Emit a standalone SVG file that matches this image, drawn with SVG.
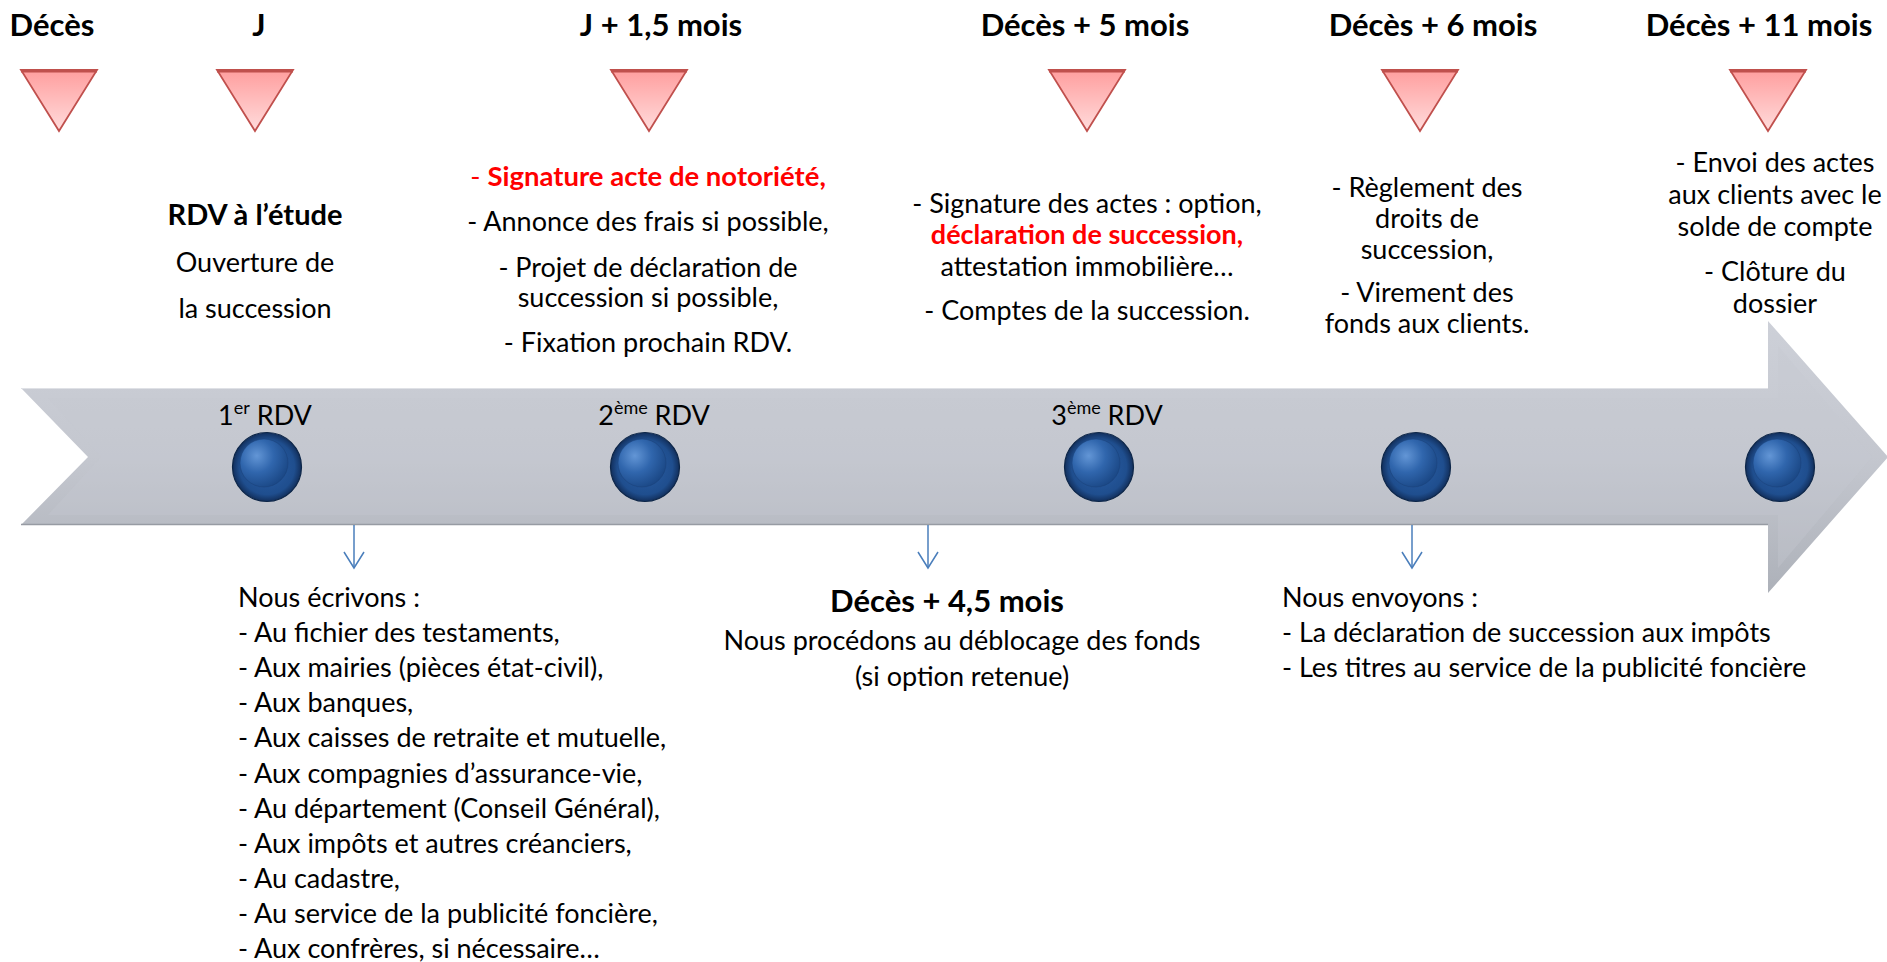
<svg xmlns="http://www.w3.org/2000/svg" width="1887" height="962" viewBox="0 0 1887 962">
<defs>
<linearGradient id="triG" x1="0" y1="0" x2="0" y2="1">
<stop offset="0" stop-color="#ff9e9e"/>
<stop offset="1" stop-color="#ffdcdc"/>
</linearGradient>
<linearGradient id="arrG" x1="0" y1="0" x2="0" y2="1">
<stop offset="0" stop-color="#cdd0d8"/>
<stop offset="0.5" stop-color="#c4c7cf"/>
<stop offset="1" stop-color="#adb1b9"/>
</linearGradient>
<radialGradient id="bOut" cx="0.5" cy="0.5" r="0.5">
<stop offset="0" stop-color="#2b5fa6"/>
<stop offset="0.8" stop-color="#1f4e8e"/>
<stop offset="1" stop-color="#122f5c"/>
</radialGradient>
<radialGradient id="bIn" cx="0.35" cy="0.35" r="0.7">
<stop offset="0" stop-color="#6396d6"/>
<stop offset="0.5" stop-color="#3066ad"/>
<stop offset="1" stop-color="#1b4886"/>
</radialGradient>
<marker id="vh" viewBox="0 0 20 22" refX="17" refY="11" markerWidth="20" markerHeight="22" markerUnits="userSpaceOnUse" orient="auto">
<path d="M1,1 L17,11 L1,21" fill="none" stroke="#4a7ebb" stroke-width="1.5"/>
</marker>
<style>
.t{font-family:Lato,"Open Sans","Liberation Sans",sans-serif;font-size:27px;fill:#000}
.m{text-anchor:middle}
.b{font-weight:bold}
.h{font-family:Lato,"Open Sans","Liberation Sans",sans-serif;font-size:31px;font-weight:bold;fill:#000;text-anchor:middle}
.red{fill:#ff0000}
.tri{fill:url(#triG);stroke:#c0504d;stroke-width:1.8;stroke-linejoin:miter}
.triTop{stroke:#c0504d;stroke-width:3}
.bo{fill:url(#bOut);stroke:#0d2648;stroke-width:1.2}
.bi{fill:url(#bIn);stroke:#1a3f75;stroke-width:0.8;stroke-opacity:0.6}
.con{stroke:#4a7ebb;stroke-width:1.5;fill:none}
.sup{font-size:18px}
</style>
</defs>

<g id="timeline-arrow">
<polygon points="21,388 1768,388 1768,321 1888,457 1768,593 1768,525 21,525 88,457" fill="url(#arrG)"/>
<polygon points="48,398 1778,398 1778,346 1872,457 1778,568 1778,515 48,515 101,457" fill="#c6c9d1" opacity="0.35"/>
<line x1="21" y1="388.5" x2="1768" y2="388.5" stroke="#dfe1e6" stroke-width="1"/>
<line x1="21" y1="524.5" x2="1768" y2="524.5" stroke="#979ba3" stroke-width="1.5"/>
</g>

<g id="headings">
<text class="h" x="52" y="36">Décès</text>
<text class="h" x="259" y="36">J</text>
<text class="h" x="661" y="36">J + 1,5 mois</text>
<text class="h" x="1085" y="36">Décès + 5 mois</text>
<text class="h" x="1433" y="36">Décès + 6 mois</text>
<text class="h" x="1759" y="36">Décès + 11 mois</text>
</g>

<g id="triangles">
<g id="tri-deces"><polygon class="tri" points="21,70 97,70 59,131"/><line class="triTop" x1="21" y1="71" x2="97" y2="71"/></g>
<g id="tri-j"><polygon class="tri" points="217,70 293,70 255,131"/><line class="triTop" x1="217" y1="71" x2="293" y2="71"/></g>
<g id="tri-j15"><polygon class="tri" points="611,70 687,70 649,131"/><line class="triTop" x1="611" y1="71" x2="687" y2="71"/></g>
<g id="tri-d5"><polygon class="tri" points="1049,70 1125,70 1087,131"/><line class="triTop" x1="1049" y1="71" x2="1125" y2="71"/></g>
<g id="tri-d6"><polygon class="tri" points="1382,70 1458,70 1420,131"/><line class="triTop" x1="1382" y1="71" x2="1458" y2="71"/></g>
<g id="tri-d11"><polygon class="tri" points="1730,70 1806,70 1768,131"/><line class="triTop" x1="1730" y1="71" x2="1806" y2="71"/></g>
</g>

<g id="block-j">
<text class="t m b" x="255" y="225" style="font-size:29px">RDV à l’étude</text>
<text class="t m" x="255" y="272">Ouverture de</text>
<text class="t m" x="255" y="318">la succession</text>
</g>

<g id="block-j15">
<text class="t m red" x="648" y="186" style="font-size:27.5px">- <tspan class="b">Signature acte de notoriété,</tspan></text>
<text class="t m" x="648" y="231">- Annonce des frais si possible,</text>
<text class="t m" x="648" y="277">- Projet de déclaration de</text>
<text class="t m" x="648" y="307">succession si possible,</text>
<text class="t m" x="648" y="352">- Fixation prochain RDV.</text>
</g>

<g id="block-d5">
<text class="t m" x="1087" y="213">- Signature des actes : option,</text>
<text class="t m b red" x="1087" y="244">déclaration de succession,</text>
<text class="t m" x="1087" y="276">attestation immobilière…</text>
<text class="t m" x="1087" y="320">- Comptes de la succession.</text>
</g>

<g id="block-d6">
<text class="t m" x="1427" y="197">- Règlement des</text>
<text class="t m" x="1427" y="228">droits de</text>
<text class="t m" x="1427" y="259">succession,</text>
<text class="t m" x="1427" y="302">- Virement des</text>
<text class="t m" x="1427" y="333">fonds aux clients.</text>
</g>

<g id="block-d11">
<text class="t m" x="1775" y="172">- Envoi des actes</text>
<text class="t m" x="1775" y="204">aux clients avec le</text>
<text class="t m" x="1775" y="236">solde de compte</text>
<text class="t m" x="1775" y="281">- Clôture du</text>
<text class="t m" x="1775" y="313">dossier</text>
</g>

<g id="rdv-labels">
<text class="t m" x="265" y="425">1<tspan class="sup" dy="-11">er</tspan><tspan dy="11"> RDV</tspan></text>
<text class="t m" x="654" y="425">2<tspan class="sup" dy="-11">ème</tspan><tspan dy="11"> RDV</tspan></text>
<text class="t m" x="1107" y="425">3<tspan class="sup" dy="-11">ème</tspan><tspan dy="11"> RDV</tspan></text>
</g>

<g id="milestones">
<g id="dot1"><circle class="bo" cx="267" cy="467" r="34.5"/><circle class="bi" cx="264" cy="463" r="24"/></g>
<g id="dot2"><circle class="bo" cx="645" cy="467" r="34.5"/><circle class="bi" cx="642" cy="463" r="24"/></g>
<g id="dot3"><circle class="bo" cx="1099" cy="467" r="34.5"/><circle class="bi" cx="1096" cy="463" r="24"/></g>
<g id="dot4"><circle class="bo" cx="1416" cy="467" r="34.5"/><circle class="bi" cx="1413" cy="463" r="24"/></g>
<g id="dot5"><circle class="bo" cx="1780" cy="467" r="34.5"/><circle class="bi" cx="1777" cy="463" r="24"/></g>
</g>

<g id="connectors">
<line class="con" x1="354" y1="525" x2="354" y2="568" marker-end="url(#vh)"/>
<line class="con" x1="928" y1="525" x2="928" y2="568" marker-end="url(#vh)"/>
<line class="con" x1="1412" y1="525" x2="1412" y2="568" marker-end="url(#vh)"/>
</g>

<g id="block-ecrivons">
<text class="t" x="238" y="607">Nous écrivons :</text>
<text class="t" x="238" y="642">- Au fichier des testaments,</text>
<text class="t" x="238" y="677">- Aux mairies (pièces état-civil),</text>
<text class="t" x="238" y="712">- Aux banques,</text>
<text class="t" x="238" y="747">- Aux caisses de retraite et mutuelle,</text>
<text class="t" x="238" y="783">- Aux compagnies d’assurance-vie,</text>
<text class="t" x="238" y="818">- Au département (Conseil Général),</text>
<text class="t" x="238" y="853">- Aux impôts et autres créanciers,</text>
<text class="t" x="238" y="888">- Au cadastre,</text>
<text class="t" x="238" y="923">- Au service de la publicité foncière,</text>
<text class="t" x="238" y="958">- Aux confrères, si nécessaire…</text>
</g>

<g id="block-d45">
<text class="h" x="947" y="612">Décès + 4,5 mois</text>
<text class="t m" x="962" y="650">Nous procédons au déblocage des fonds</text>
<text class="t m" x="962" y="686">(si option retenue)</text>
</g>

<g id="block-envoyons">
<text class="t" x="1282" y="607">Nous envoyons :</text>
<text class="t" x="1282" y="642">- La déclaration de succession aux impôts</text>
<text class="t" x="1282" y="677">- Les titres au service de la publicité foncière</text>
</g>
</svg>
